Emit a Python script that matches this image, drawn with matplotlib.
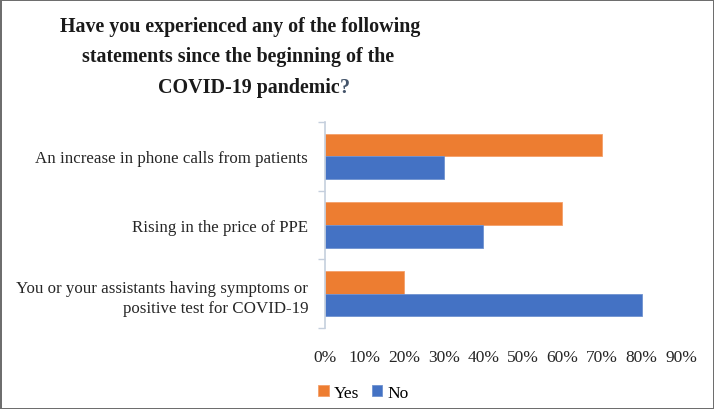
import matplotlib
matplotlib.use("Agg")
import matplotlib.pyplot as plt
import numpy as np

categories = ["An increase in phone calls from patients",
              "Rising in the price of PPE",
              "You or your assistants having symptoms or\npositive test for COVID-19"]
yes_vals = [0.70, 0.60, 0.20]
no_vals = [0.30, 0.40, 0.80]
xticks = [0, 0.1, 0.2, 0.3, 0.4, 0.5, 0.6, 0.7, 0.8, 0.9]

ORANGE = "#ED7D31"
BLUE = "#4472C4"
SERIF = "Liberation Serif"

fig = plt.figure(figsize=(7.14, 4.10), dpi=100)
fig.patch.set_edgecolor("#6e6e6e")
fig.patch.set_linewidth(2)
ax = fig.add_axes([0.455, 0.198, 0.499, 0.502])

y = np.arange(len(categories))
h = 0.33
ax.barh(y - h / 2, yes_vals, h, color=ORANGE, edgecolor="#f4a06a", linewidth=0.6, label="Yes")
ax.barh(y + h / 2, no_vals, h, color=BLUE, edgecolor="#6f92d0", linewidth=0.6, label="No")

ax.set_ylim(len(categories) - 0.5, -0.5)
ax.set_xlim(0, 0.9)
ax.set_yticks(y)
ax.set_yticklabels(categories, fontsize=12.2, family=SERIF, color="#262626")
for lbl in ax.get_yticklabels():
    lbl.set_linespacing(1.4)
ax.set_yticks(np.arange(len(categories) + 1) - 0.5, minor=True)
ax.tick_params(axis="y", which="major", length=0, pad=12)
ax.tick_params(axis="y", which="minor", length=5, color="#c5cfdd", width=1)
ax.set_xticks(xticks)
ax.set_xticklabels([f"{int(round(t * 100))}%" for t in xticks], fontsize=12.5, family=SERIF, color="#262626")
ax.tick_params(axis="x", length=0, pad=15)
for s in ["top", "right", "bottom"]:
    ax.spines[s].set_visible(False)
ax.spines["left"].set_color("#c5cfdd")
ax.spines["left"].set_linewidth(1.2)

title_kw = dict(fontsize=14.4, fontweight="bold", family=SERIF, color="#1a1a1a", ha="center", va="center")
fig.text(0.336, 0.934, "Have you experienced any of the following", **title_kw)
fig.text(0.334, 0.861, "statements since the beginning of the", **title_kw)
t3 = fig.text(0.348, 0.785, "COVID-19 pandemic", **title_kw)
ax.annotate("?", xy=(1, 0.5), xycoords=t3, xytext=(0.5, 0), textcoords="offset points",
            ha="left", va="center", fontsize=14.4, fontweight="bold", family=SERIF, color="#44546A")

ax.legend(loc="upper left", bbox_to_anchor=(-0.062, -0.2), ncol=2, frameon=False,
          prop={"family": SERIF, "size": 12.5}, handlelength=0.6, handleheight=0.6,
          handletextpad=0.3, columnspacing=0.7)

fig.savefig("out.png", dpi=100)
